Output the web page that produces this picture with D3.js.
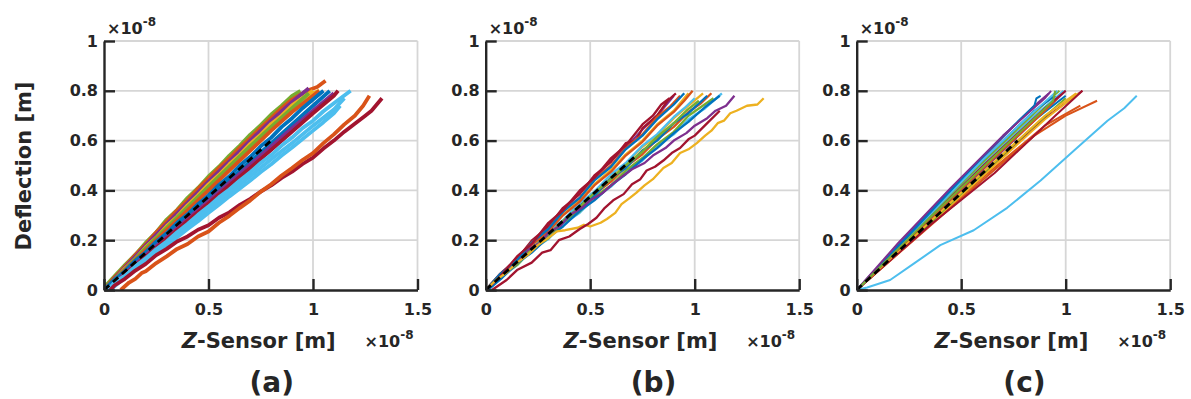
<!DOCTYPE html>
<html>
<head>
<meta charset="utf-8">
<script src="https://cdn.jsdelivr.net/npm/d3@7"></script>
<style>
  body { margin: 0; background: #fff; }
  text { font-family: "DejaVu Sans", sans-serif; font-weight: bold; fill: #262626; }
</style>
</head>
<body>
<script>
// MATLAB default colour order
const palette = ["#0072BD", "#D95319", "#EDB120", "#7E2F8E", "#77AC30", "#4DBEEE", "#A2142F"];

const xTicks = [0, 0.5, 1, 1.5];
const xTickLabels = ["0", "0.5", "1", "1.5"];
const yTicks = [0, 0.2, 0.4, 0.6, 0.8, 1];
const yTickLabels = ["0", "0.2", "0.4", "0.6", "0.8", "1"];
const panelLabels = ["(a)", "(b)", "(c)"];

// end point of the dashed black fit line in each panel (starts at 0,0)
const fitEnds = [[0.8, 0.6], [0.72, 0.54], [0.77, 0.6]];

// panel (a): raw curves, x and y in units of 1e-8 m
const colorsA = [4, 1, 3, 2, 2, 4, 1, 0, 0, 3, 6, 5, 5, 5, 6, 1];
const curvesA = [
  [[0,0.01],[0.05,0.055],[0.1,0.1],[0.15,0.142],[0.2,0.19],[0.25,0.232],[0.3,0.283],[0.35,0.322],[0.4,0.37],[0.45,0.41],[0.5,0.456],[0.55,0.495],[0.6,0.54],[0.65,0.58],[0.7,0.624],[0.75,0.662],[0.8,0.705],[0.85,0.74],[0.9,0.78],[0.94,0.8]],
  [[0,0],[0.05,0.05],[0.1,0.094],[0.15,0.141],[0.2,0.183],[0.25,0.232],[0.3,0.275],[0.35,0.32],[0.4,0.36],[0.45,0.407],[0.5,0.447],[0.55,0.49],[0.6,0.528],[0.65,0.572],[0.7,0.61],[0.75,0.652],[0.8,0.69],[0.85,0.73],[0.9,0.765],[0.97,0.8],[1.02,0.815],[1.06,0.84]],
  [[0,0],[0.1,0.09],[0.2,0.178],[0.3,0.265],[0.4,0.35],[0.5,0.435],[0.6,0.517],[0.7,0.6],[0.8,0.68],[0.9,0.755],[0.98,0.81]],
  [[0,0],[0.05,0.04],[0.1,0.086],[0.15,0.125],[0.2,0.172],[0.25,0.21],[0.3,0.256],[0.35,0.295],[0.4,0.34],[0.45,0.38],[0.5,0.424],[0.55,0.462],[0.6,0.505],[0.65,0.543],[0.7,0.587],[0.75,0.624],[0.8,0.667],[0.85,0.7],[0.9,0.742],[1.0,0.8]],
  [[0.01,0],[0.1,0.082],[0.2,0.165],[0.3,0.248],[0.4,0.33],[0.5,0.412],[0.6,0.494],[0.7,0.575],[0.8,0.652],[0.9,0.728],[1.0,0.79],[1.03,0.8]],
  [[0,0],[0.1,0.083],[0.2,0.168],[0.3,0.25],[0.4,0.333],[0.5,0.415],[0.6,0.497],[0.7,0.578],[0.8,0.655],[0.9,0.73],[0.98,0.79]],
  [[0.01,0],[0.1,0.08],[0.2,0.16],[0.3,0.24],[0.4,0.32],[0.5,0.4],[0.6,0.48],[0.7,0.56],[0.8,0.64],[0.9,0.715],[1.0,0.78],[1.03,0.8]],
  [[0,0],[0.05,0.04],[0.1,0.076],[0.15,0.118],[0.2,0.152],[0.25,0.194],[0.3,0.228],[0.35,0.27],[0.4,0.304],[0.45,0.345],[0.5,0.38],[0.55,0.422],[0.6,0.457],[0.65,0.5],[0.7,0.535],[0.75,0.577],[0.8,0.612],[0.85,0.655],[0.9,0.69],[0.95,0.73],[1.0,0.765],[1.05,0.8]],
  [[0.01,0],[0.1,0.07],[0.2,0.145],[0.3,0.218],[0.4,0.292],[0.5,0.366],[0.6,0.44],[0.7,0.516],[0.8,0.59],[0.9,0.665],[1.0,0.74],[1.08,0.8]],
  [[0.02,0],[0.1,0.066],[0.2,0.14],[0.3,0.212],[0.4,0.285],[0.5,0.357],[0.6,0.43],[0.7,0.503],[0.8,0.577],[0.9,0.65],[1.0,0.72],[1.1,0.79]],
  [[0.02,0],[0.1,0.062],[0.2,0.133],[0.3,0.205],[0.4,0.277],[0.5,0.348],[0.6,0.42],[0.7,0.49],[0.8,0.563],[0.9,0.636],[1.0,0.71],[1.1,0.78],[1.12,0.8]],
  [[0.02,0],[0.05,0.03],[0.1,0.058],[0.15,0.095],[0.2,0.127],[0.25,0.164],[0.3,0.195],[0.35,0.232],[0.4,0.265],[0.45,0.302],[0.5,0.335],[0.55,0.372],[0.6,0.404],[0.65,0.44],[0.7,0.473],[0.75,0.51],[0.8,0.542],[0.85,0.58],[0.9,0.612],[0.95,0.65],[1.0,0.68],[1.05,0.718],[1.1,0.75],[1.18,0.8]],
  [[0.03,0],[0.1,0.052],[0.2,0.12],[0.3,0.186],[0.4,0.255],[0.5,0.322],[0.6,0.39],[0.7,0.457],[0.8,0.525],[0.9,0.59],[1.0,0.66],[1.1,0.725],[1.15,0.77]],
  [[0.03,0],[0.05,0.016],[0.1,0.048],[0.15,0.08],[0.2,0.113],[0.25,0.146],[0.3,0.178],[0.35,0.212],[0.4,0.245],[0.45,0.276],[0.5,0.31],[0.55,0.342],[0.6,0.376],[0.65,0.408],[0.7,0.44],[0.75,0.474],[0.8,0.505],[0.85,0.54],[0.9,0.572],[0.95,0.606],[1.0,0.64],[1.05,0.674],[1.1,0.71],[1.13,0.74]],
  [[0.03,0],[0.05,0.018],[0.1,0.045],[0.15,0.078],[0.2,0.105],[0.25,0.14],[0.3,0.165],[0.35,0.195],[0.4,0.215],[0.45,0.242],[0.5,0.26],[0.55,0.29],[0.6,0.312],[0.65,0.342],[0.7,0.366],[0.75,0.395],[0.8,0.42],[0.85,0.45],[0.9,0.475],[0.95,0.506],[1.0,0.532],[1.05,0.568],[1.1,0.6],[1.15,0.636],[1.2,0.668],[1.25,0.7],[1.28,0.72],[1.33,0.77]],
  [[0.08,0],[0.12,0.03],[0.15,0.045],[0.18,0.068],[0.2,0.075],[0.25,0.108],[0.3,0.135],[0.35,0.165],[0.4,0.185],[0.45,0.215],[0.5,0.235],[0.55,0.27],[0.6,0.298],[0.65,0.33],[0.7,0.36],[0.75,0.395],[0.8,0.425],[0.85,0.46],[0.9,0.49],[0.95,0.522],[1.0,0.55],[1.05,0.59],[1.1,0.625],[1.15,0.665],[1.2,0.7],[1.24,0.74],[1.27,0.78]]
];

// panel (b): filtered curves
const colorsB = [1, 2, 5, 4, 0, 5, 2, 4, 0, 1, 3, 6, 3, 1, 0, 6, 2];
const curvesB = [
  [[0,0],[0.07,0.055],[0.15,0.105],[0.22,0.165],[0.3,0.215],[0.37,0.275],[0.45,0.325],[0.52,0.385],[0.6,0.435],[0.67,0.495],[0.75,0.545],[0.82,0.605],[0.9,0.655],[0.97,0.715],[1.03,0.75],[1.08,0.79]],
  [[0,0],[0.07,0.05],[0.15,0.118],[0.22,0.163],[0.3,0.232],[0.37,0.278],[0.45,0.345],[0.52,0.39],[0.6,0.46],[0.67,0.505],[0.75,0.575],[0.82,0.62],[0.9,0.69],[0.97,0.74],[1.04,0.79]],
  [[0.01,0],[0.08,0.055],[0.15,0.1],[0.22,0.16],[0.3,0.205],[0.37,0.265],[0.45,0.31],[0.52,0.37],[0.6,0.415],[0.67,0.475],[0.75,0.52],[0.82,0.58],[0.9,0.625],[0.97,0.685],[1.05,0.73],[1.13,0.79]],
  [[0,0],[0.07,0.055],[0.15,0.1],[0.22,0.162],[0.3,0.208],[0.37,0.27],[0.45,0.315],[0.52,0.375],[0.6,0.42],[0.67,0.48],[0.75,0.53],[0.82,0.585],[0.9,0.635],[0.97,0.7],[1.03,0.735],[1.09,0.77]],
  [[0,0],[0.07,0.045],[0.15,0.115],[0.22,0.158],[0.3,0.228],[0.37,0.27],[0.45,0.34],[0.52,0.38],[0.6,0.45],[0.67,0.49],[0.75,0.56],[0.82,0.6],[0.9,0.67],[0.97,0.71],[1.06,0.78]],
  [[0.01,0],[0.08,0.055],[0.15,0.12],[0.22,0.165],[0.3,0.235],[0.37,0.28],[0.45,0.35],[0.52,0.395],[0.6,0.465],[0.67,0.51],[0.75,0.58],[0.82,0.625],[0.9,0.695],[0.95,0.73],[1.0,0.77]],
  [[0,0],[0.07,0.06],[0.15,0.118],[0.22,0.182],[0.3,0.24],[0.37,0.303],[0.45,0.36],[0.52,0.425],[0.6,0.482],[0.67,0.545],[0.75,0.6],[0.82,0.665],[0.9,0.72],[0.97,0.79]],
  [[0,0],[0.07,0.052],[0.15,0.11],[0.22,0.166],[0.3,0.222],[0.37,0.278],[0.45,0.334],[0.52,0.39],[0.6,0.445],[0.67,0.5],[0.75,0.556],[0.82,0.615],[0.9,0.67],[0.96,0.72],[1.02,0.76]],
  [[0.01,0],[0.08,0.05],[0.15,0.108],[0.22,0.15],[0.3,0.212],[0.37,0.255],[0.45,0.318],[0.52,0.36],[0.6,0.42],[0.67,0.465],[0.75,0.525],[0.82,0.57],[0.9,0.63],[0.97,0.675],[1.05,0.735],[1.12,0.78]],
  [[0,0],[0.07,0.06],[0.15,0.115],[0.22,0.18],[0.3,0.235],[0.37,0.3],[0.45,0.355],[0.52,0.42],[0.6,0.475],[0.67,0.54],[0.75,0.595],[0.82,0.66],[0.9,0.715],[0.95,0.76],[0.99,0.8]],
  [[0,0],[0.07,0.058],[0.15,0.13],[0.22,0.185],[0.3,0.26],[0.37,0.315],[0.45,0.39],[0.52,0.445],[0.6,0.52],[0.67,0.57],[0.75,0.645],[0.82,0.7],[0.9,0.78]],
  [[0,0],[0.07,0.066],[0.15,0.125],[0.22,0.198],[0.3,0.255],[0.37,0.33],[0.45,0.385],[0.52,0.46],[0.6,0.515],[0.67,0.59],[0.72,0.6],[0.75,0.65],[0.82,0.7],[0.87,0.76],[0.91,0.79]],
  [[0,0],[0.1,0.08],[0.16,0.12],[0.2,0.16],[0.26,0.19],[0.3,0.23],[0.36,0.26],[0.4,0.3],[0.46,0.33],[0.5,0.36],[0.56,0.39],[0.6,0.42],[0.66,0.46],[0.7,0.485],[0.76,0.51],[0.8,0.54],[0.86,0.57],[0.9,0.6],[0.96,0.63],[1.0,0.66],[1.06,0.69],[1.1,0.72],[1.15,0.74],[1.19,0.78]],
  [[0,0],[0.07,0.064],[0.15,0.12],[0.22,0.19],[0.3,0.245],[0.37,0.318],[0.45,0.37],[0.52,0.445],[0.6,0.5],[0.67,0.57],[0.75,0.625],[0.82,0.695],[0.88,0.735],[0.93,0.78]],
  [[0,0],[0.07,0.065],[0.15,0.12],[0.22,0.19],[0.3,0.245],[0.37,0.315],[0.45,0.37],[0.52,0.44],[0.6,0.495],[0.67,0.565],[0.75,0.62],[0.82,0.685],[0.9,0.745],[0.95,0.79]],
  [[0,0],[0.07,0.055],[0.15,0.135],[0.22,0.185],[0.3,0.27],[0.37,0.32],[0.45,0.4],[0.52,0.45],[0.6,0.53],[0.67,0.58],[0.75,0.665],[0.8,0.7],[0.84,0.745],[0.88,0.77]],
  [[0,0],[0.05,0.04],[0.1,0.07],[0.15,0.11],[0.2,0.14],[0.25,0.18],[0.3,0.21],[0.34,0.235],[0.38,0.24],[0.44,0.25],[0.47,0.262],[0.5,0.255],[0.55,0.27],[0.58,0.285],[0.62,0.31],[0.65,0.345],[0.69,0.37],[0.72,0.39],[0.76,0.42],[0.8,0.445],[0.85,0.49],[0.89,0.51],[0.93,0.55],[0.97,0.565],[1.01,0.59],[1.05,0.62],[1.08,0.64],[1.11,0.67],[1.14,0.68],[1.17,0.71],[1.2,0.72],[1.25,0.74],[1.3,0.745],[1.33,0.77]]
];
// extra dark red outlier in (b)
const outlierB = [[0.03,0],[0.1,0.04],[0.15,0.08],[0.22,0.11],[0.27,0.15],[0.31,0.16],[0.35,0.2],[0.4,0.215],[0.45,0.245],[0.49,0.265],[0.53,0.29],[0.57,0.33],[0.61,0.36],[0.66,0.385],[0.7,0.425],[0.74,0.445],[0.77,0.48],[0.81,0.495],[0.85,0.52],[0.89,0.55],[0.93,0.57],[0.97,0.605],[1.0,0.62],[1.06,0.67],[1.12,0.72]];

// panel (c): fitted curves
const colorsC = [1, 1, 6, 2, 4, 3, 0, 6, 2, 1, 5, 6, 4, 3, 0, 5, 0, 3, 4, 5];
const curvesC = [
  [[0,0],[0.3,0.22],[0.6,0.44],[0.85,0.62],[1.0,0.7],[1.15,0.76]],
  [[0,0],[0.3,0.225],[0.6,0.45],[0.9,0.66],[1.07,0.74]],
  [[0,0],[0.3,0.23],[0.6,0.46],[0.9,0.69],[1.08,0.8]],
  [[0,0],[0.3,0.228],[0.6,0.455],[0.9,0.685],[1.06,0.79]],
  [[0,0],[0.3,0.23],[0.6,0.465],[0.85,0.66],[1.0,0.77]],
  [[0,0],[0.3,0.24],[0.6,0.48],[0.9,0.72],[1.0,0.8]],
  [[0,0],[0.3,0.245],[0.55,0.45],[0.8,0.65],[1.0,0.78]],
  [[0,0],[0.35,0.26],[0.66,0.47],[0.95,0.7],[1.08,0.8]],
  [[0,0],[0.3,0.235],[0.6,0.47],[0.9,0.7],[1.05,0.79]],
  [[0,0],[0.3,0.245],[0.6,0.485],[0.9,0.72],[0.96,0.77]],
  [[0,0],[0.3,0.255],[0.6,0.5],[0.85,0.7],[0.99,0.8]],
  [[0,0],[0.3,0.25],[0.6,0.495],[0.9,0.73],[1.0,0.8]],
  [[0,0],[0.3,0.26],[0.6,0.51],[0.9,0.75],[0.97,0.8]],
  [[0,0],[0.3,0.27],[0.6,0.53],[0.85,0.74],[0.92,0.79]],
  [[0,0],[0.4,0.36],[0.6,0.52],[0.85,0.72],[0.95,0.78]],
  [[0,0],[0.3,0.26],[0.6,0.52],[0.8,0.68],[0.96,0.8]],
  [[0,0],[0.25,0.22],[0.55,0.49],[0.75,0.66],[0.85,0.74],[0.86,0.77],[0.88,0.78]],
  [[0,0],[0.2,0.19],[0.45,0.41],[0.7,0.62],[0.9,0.77],[0.93,0.8]],
  [[0,0],[0.35,0.29],[0.7,0.57],[0.94,0.76],[0.95,0.8]],
  [[0,0],[0.05,0.01],[0.16,0.04],[0.28,0.11],[0.4,0.18],[0.56,0.24],[0.72,0.33],[0.88,0.44],[1.04,0.56],[1.2,0.68],[1.28,0.73],[1.34,0.78]]
];

const W = 1191, H = 399;
const panelLeft = [104, 485.7, 856.7];
const panelW = 313.5, plotTop = 41, plotBottom = 290;
const strokeW = [3.8, 2.3, 2];

const svg = d3.select("body").append("svg")
  .attr("width", W)
  .attr("height", H);

const panels = [
  curvesA.map((p, i) => ({ p, c: colorsA[i] })),
  curvesB.map((p, i) => ({ p, c: colorsB[i] })).concat([{ p: outlierB, c: 6 }]),
  curvesC.map((p, i) => ({ p, c: colorsC[i] }))
];

panels.forEach((series, k) => {
  const x = d3.scaleLinear().domain([0, 1.5]).range([panelLeft[k], panelLeft[k] + panelW]);
  const y = d3.scaleLinear().domain([0, 1]).range([plotBottom, plotTop]);
  const g = svg.append("g");

  // grid
  g.selectAll(".gx").data(xTicks.filter(d => d > 0)).enter().append("line")
    .attr("x1", d => x(d)).attr("x2", d => x(d))
    .attr("y1", plotTop).attr("y2", plotBottom)
    .attr("stroke", "#d6d6d6").attr("stroke-width", 1.8);
  g.selectAll(".gy").data(yTicks.filter(d => d > 0)).enter().append("line")
    .attr("x1", x(0)).attr("x2", x(1.5))
    .attr("y1", d => y(d)).attr("y2", d => y(d))
    .attr("stroke", "#d6d6d6").attr("stroke-width", 1.8);

  // curves
  const line = d3.line().x(d => x(d[0])).y(d => y(d[1]));
  const clip = "clip" + k;
  svg.append("clipPath").attr("id", clip).append("rect")
    .attr("x", x(0)).attr("y", plotTop - 10).attr("width", panelW).attr("height", plotBottom - plotTop + 10);
  const lg = g.append("g").attr("clip-path", `url(#${clip})`);
  series.forEach(s => {
    lg.append("path")
      .attr("d", line(s.p))
      .attr("fill", "none")
      .attr("stroke", palette[s.c])
      .attr("stroke-width", strokeW[k])
      .attr("stroke-linejoin", "round");
  });
  lg.append("path")
    .attr("d", line([[0, 0], fitEnds[k]]))
    .attr("fill", "none")
    .attr("stroke", "#000")
    .attr("stroke-width", 2.8)
    .attr("stroke-dasharray", "7,5");

  // axes
  const ax = g.append("g").attr("transform", `translate(0,${plotBottom})`)
    .call(d3.axisBottom(x).tickValues(xTicks).tickFormat((d, i) => xTickLabels[i])
      .tickSizeInner(-11).tickSizeOuter(0).tickPadding(14));
  const ay = g.append("g").attr("transform", `translate(${x(0)},0)`)
    .call(d3.axisLeft(y).tickValues(yTicks).tickFormat((d, i) => yTickLabels[i])
      .tickSizeInner(-11).tickSizeOuter(0).tickPadding(6));
  [ax, ay].forEach(a => {
    a.select(".domain").attr("stroke", "#262626").attr("stroke-width", 2.4);
    a.selectAll(".tick line").attr("stroke", "#262626").attr("stroke-width", 2.4);
    a.selectAll(".tick text").attr("font-size", 16).attr("fill", "#262626")
      .attr("font-family", "DejaVu Sans").attr("font-weight", "bold");
  });

  // exponent labels
  const ey = g.append("text").attr("x", x(0) + 3).attr("y", 34).attr("font-size", 16);
  ey.append("tspan").text("×10");
  ey.append("tspan").attr("font-size", 12).attr("dy", -8).text("-8");
  const ex = g.append("text").attr("x", x(1.5) - 53).attr("y", 347).attr("font-size", 16);
  ex.append("tspan").text("×10");
  ex.append("tspan").attr("font-size", 12).attr("dy", -8).text("-8");

  // axis title
  const xl = g.append("text").attr("x", x(0.75) - 2).attr("y", 348)
    .attr("text-anchor", "middle").attr("font-size", 21);
  xl.append("tspan").attr("font-style", "italic").text("Z");
  xl.append("tspan").text("-Sensor [m]");

  g.append("text").attr("x", x(0.75) + 11).attr("y", 392)
    .attr("text-anchor", "middle").attr("font-size", 28)
    .text(panelLabels[k]);
});

svg.append("text")
  .attr("transform", `translate(31,166) rotate(-90)`)
  .attr("text-anchor", "middle").attr("font-size", 21)
  .text("Deflection [m]");
</script>
</body>
</html>
